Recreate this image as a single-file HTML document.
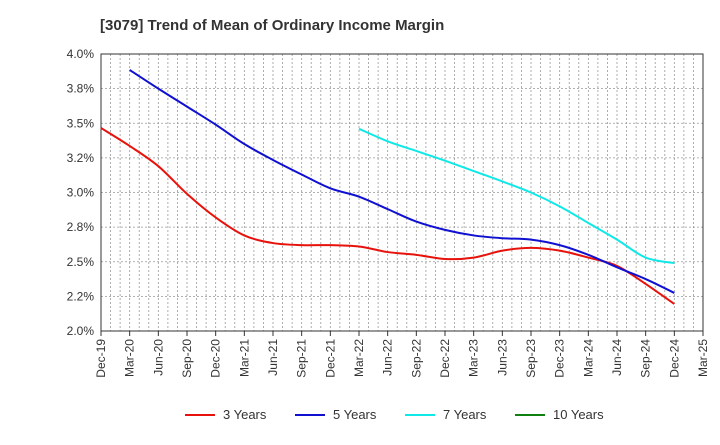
<!DOCTYPE html>
<html><head><meta charset="utf-8"><style>
body{margin:0;background:#fff;font-family:"Liberation Sans",Arial,sans-serif;}
svg text{font-family:"Liberation Sans",Arial,sans-serif;}
</style></head><body>
<svg id="chart" width="720" height="440" xmlns="http://www.w3.org/2000/svg">
<text x="100" y="30" font-size="15" font-weight="bold" fill="#333">[3079]  Trend of Mean of Ordinary Income Margin</text>
<g id="grid"></g><g id="axes"></g><g id="series"></g><g id="legend"></g>
</svg>
<script>
const xLabels=["Dec-19","Mar-20","Jun-20","Sep-20","Dec-20","Mar-21","Jun-21","Sep-21","Dec-21","Mar-22","Jun-22","Sep-22","Dec-22","Mar-23","Jun-23","Sep-23","Dec-23","Mar-24","Jun-24","Sep-24","Dec-24","Mar-25"];
const yTicks=[2.0,2.25,2.5,2.75,3.0,3.25,3.5,3.75,4.0];
const yTickLabels=["2.0%","2.2%","2.5%","2.8%","3.0%","3.2%","3.5%","3.8%","4.0%"];
const s3=[3.466,3.336,3.19,2.99,2.82,2.69,2.635,2.62,2.62,2.61,2.57,2.55,2.52,2.53,2.58,2.60,2.58,2.53,2.47,2.34,2.195];
const s3Start=0;
const s5=[3.885,3.75,3.62,3.49,3.35,3.235,3.13,3.03,2.97,2.88,2.79,2.73,2.69,2.67,2.66,2.62,2.55,2.46,2.375,2.275];
const s5Start=1;
const s7=[3.46,3.37,3.30,3.23,3.155,3.08,3.00,2.90,2.78,2.66,2.53,2.49];
const s7Start=9;
const s10=[];
const s10Start=0;
const NS="http://www.w3.org/2000/svg";
const L=101,R=703,T=54,B=331;
const xs=i=>L+(R-L)*i/(xLabels.length-1);
const ys=v=>B-(v-2.0)/(4.0-2.0)*(B-T);
function mk(tag,attrs,parent){const e=document.createElementNS(NS,tag);for(const k in attrs)e.setAttribute(k,attrs[k]);parent.appendChild(e);return e;}
const grid=document.getElementById('grid'),axes=document.getElementById('axes'),ser=document.getElementById('series'),leg=document.getElementById('legend');
for(let m=1;m<(xLabels.length-1)*3;m++){const x=L+(R-L)*m/((xLabels.length-1)*3);
const g=mk('line',{x1:x,x2:x,y1:T,y2:B,stroke:'#999','stroke-dasharray':'2,2','stroke-width':0.8},grid);

}
yTicks.forEach((v,i)=>{const y=ys(v);
if(i>0&&i<yTicks.length-1){const g=mk('line',{x1:L,x2:R,y1:y,y2:y,stroke:'#999','stroke-dasharray':'2,2','stroke-width':0.8},grid);

}
const t=mk('text',{x:L-7,y:y+4,'text-anchor':'end','font-size':12,fill:'#333'},axes);t.textContent=yTickLabels[i];

});
const fr=mk('rect',{x:L,y:T,width:R-L,height:B-T,fill:'none',stroke:'#333','stroke-width':1},axes);


xLabels.forEach((lab,i)=>{const x=xs(i);
mk('line',{x1:x,x2:x,y1:B,y2:B+5,stroke:'#333'},axes);
const t=mk('text',{x:x+4,y:B+8,'text-anchor':'end','font-size':12,fill:'#333',transform:`rotate(-90 ${x+4} ${B+8})`},axes);t.textContent=lab;

});
function path(data,start){const p=data.map((v,i)=>[xs(start+i),ys(v)]);if(!p.length)return '';let d=`M${p[0][0]},${p[0][1]}`;
for(let i=0;i<p.length-1;i++){const p0=p[i-1]||p[i],p1=p[i],p2=p[i+1],p3=p[i+2]||p2;
d+=` C${p1[0]+(p2[0]-p0[0])/6},${p1[1]+(p2[1]-p0[1])/6} ${p2[0]-(p3[0]-p1[0])/6},${p2[1]-(p3[1]-p1[1])/6} ${p2[0]},${p2[1]}`;}return d;}
const series=[[s3,s3Start,'#e8120c','3 Years','line-3-years'],[s5,s5Start,'#1010d0','5 Years','line-5-years'],[s7,s7Start,'#10e8e8','7 Years','line-7-years'],[s10,s10Start,'#108010','10 Years','line-10-years']];
series.forEach(([d,st,c,lab,nm],k)=>{if(d.length){const p=mk('path',{d:path(d,st),fill:'none',stroke:c,'stroke-width':2},ser);

}
const lx=185+k*110;
const g=mk('g',{},leg);


mk('line',{x1:lx,x2:lx+30,y1:415,y2:415,stroke:c,'stroke-width':2},g);
const t=mk('text',{x:lx+38,y:419,'font-size':13,fill:'#333'},g);t.textContent=lab;});
</script>
</body></html>
